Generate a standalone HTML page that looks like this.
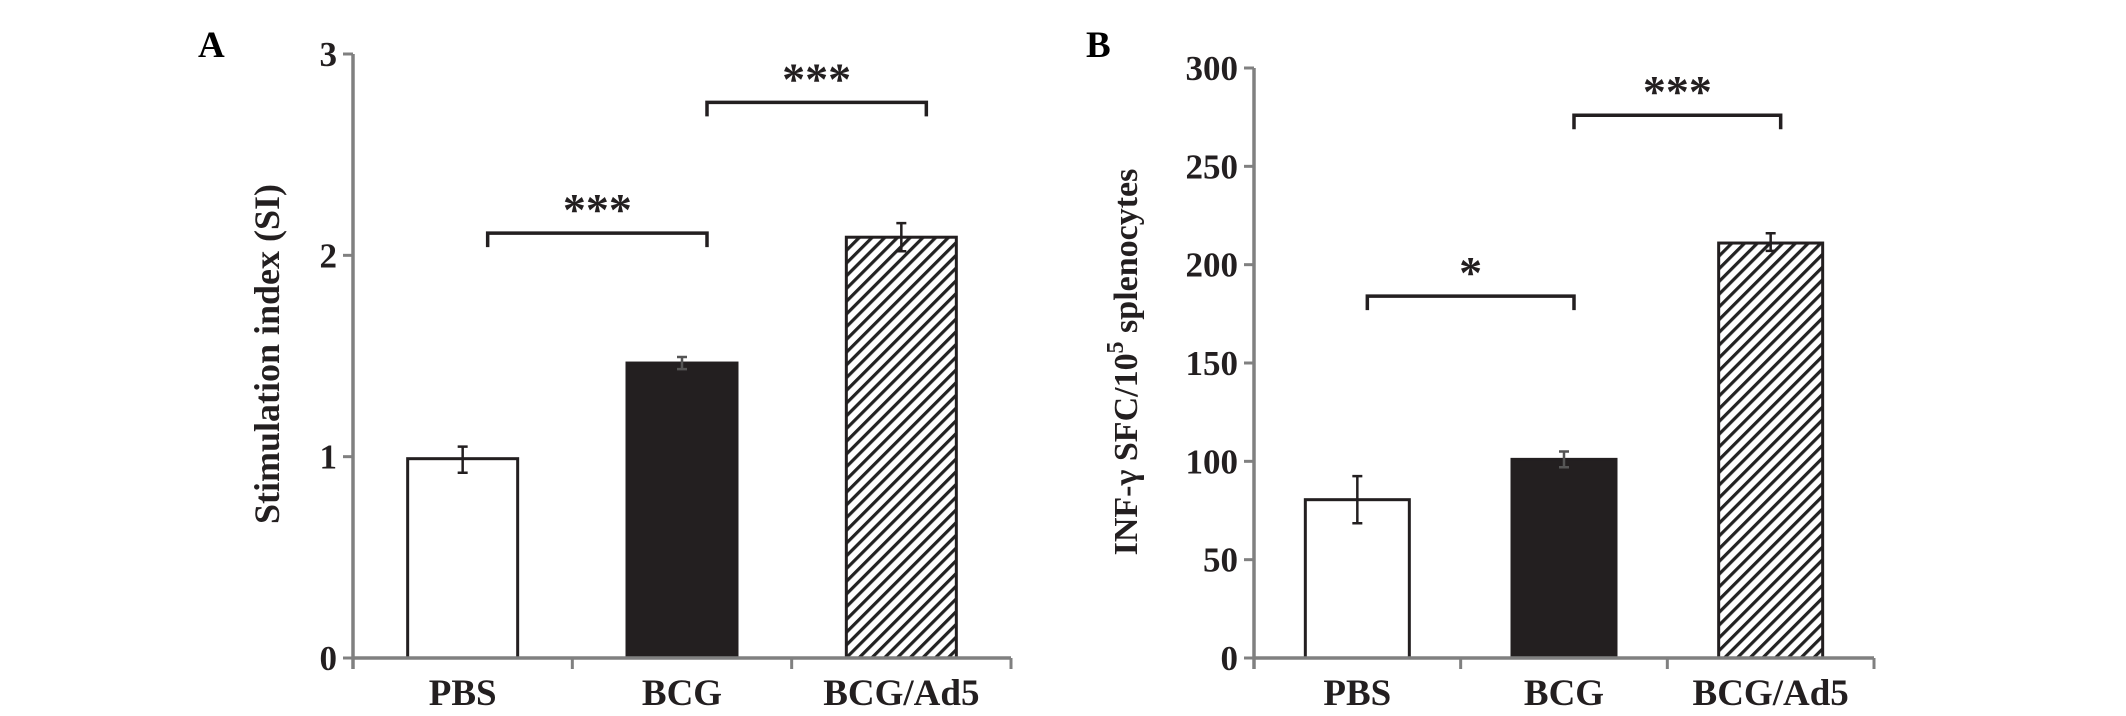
<!DOCTYPE html>
<html><head><meta charset="utf-8"><style>
html,body{margin:0;padding:0;background:#fff;}
svg{display:block;font-family:"Liberation Serif",serif;font-weight:bold;}
</style></head><body>
<svg id="fig" width="2126" height="716" viewBox="0 0 2126 716" xmlns="http://www.w3.org/2000/svg">
<defs>
<pattern id="hatch" patternUnits="userSpaceOnUse" width="9" height="9" patternTransform="rotate(45)">
<rect width="9" height="9" fill="#fff"/><rect x="0" y="0" width="3.2" height="9" fill="#222"/>
</pattern>
</defs>
</svg>
<script>
const categories = ["PBS", "BCG", "BCG/Ad5"];
const valuesA = [0.99, 1.465, 2.09];
const errUpA = [0.06, 0.03, 0.07];
const errDnA = [0.07, 0.03, 0.07];
const ticksA = [0, 1, 2, 3];
const valuesB = [80.5, 101, 211];
const errUpB = [12, 4, 5];
const errDnB = [12, 4, 4];
const ticksB = [0, 50, 100, 150, 200, 250, 300];
const sigA = [[0, 1, 2.11, "***"], [1, 2, 2.76, "***"]];
const sigB = [[0, 1, 184, "*"], [1, 2, 276, "***"]];

const NS = "http://www.w3.org/2000/svg";
const svg = document.getElementById("fig");
function mk(tag, attrs, parent) {
  const e = document.createElementNS(NS, tag);
  for (const k in attrs) e.setAttribute(k, attrs[k]);
  (parent || svg).appendChild(e);
  return e;
}
const fills = ["#fff", "#231f20", "url(#hatch)"];

function panel(cfg) {
  const g = mk("g", {});
  
  
  const y = v => cfg.y0 - (v - cfg.min) / (cfg.max - cfg.min) * (cfg.y0 - cfg.yTop);
  const catW = (cfg.xEnd - cfg.ax) / categories.length;
  const cx = i => cfg.ax + catW * (i + 0.5);
  const L = mk("text", {x: cfg.letterX, y: 57, "font-size": 37}, g);
  L.textContent = cfg.letter;
  
  
  cfg.values.forEach((v, i) => {
    const top = y(v);
    const r = mk("rect", {x: cx(i) - cfg.barW / 2, y: top, width: cfg.barW, height: cfg.y0 - top, fill: fills[i], stroke: "#231f20", "stroke-width": 3}, g);
    
    
    const eu = y(v + cfg.errUp[i]), ed = y(v - cfg.errDn[i]);
    const e = mk("path", {d: `M${cx(i)} ${eu}V${ed}M${cx(i)-5} ${eu}H${cx(i)+5}M${cx(i)-5} ${ed}H${cx(i)+5}`, stroke: i === 1 ? "#555" : "#231f20", "stroke-width": 2.5, fill: "none"}, g);
    
    
    const t = mk("text", {x: cx(i), y: 705, "font-size": 37, "text-anchor": "middle", fill: "#231f20"}, g);
    t.textContent = categories[i];
    
    
  });
  const ya = mk("line", {x1: cfg.ax, y1: cfg.yTop, x2: cfg.ax, y2: cfg.y0 + 11, stroke: "#808080", "stroke-width": 3.5}, g);
  
  
  const xa = mk("line", {x1: cfg.ax, y1: cfg.y0, x2: cfg.xEnd, y2: cfg.y0, stroke: "#808080", "stroke-width": 3.5}, g);
  
  
  for (let i = 1; i <= categories.length; i++) {
    const tx = cfg.ax + catW * i;
    const tk = mk("line", {x1: tx, y1: cfg.y0, x2: tx, y2: cfg.y0 + 11, stroke: "#808080", "stroke-width": 3}, g);
    
    
  }
  cfg.ticks.forEach(t => {
    const ty = y(t);
    const tk = mk("line", {x1: cfg.ax - 10, y1: ty, x2: cfg.ax, y2: ty, stroke: "#808080", "stroke-width": 3}, g);
    
    
    const tl = mk("text", {x: cfg.ax - 16, y: ty + 12, "font-size": 35, "text-anchor": "end", fill: "#231f20"}, g);
    tl.textContent = t;
    
    
  });
  const yt = mk("text", {x: 0, y: 0, "font-size": cfg.titleSize, "text-anchor": "middle", fill: "#231f20", transform: `translate(${cfg.titleX},${cfg.titleY}) rotate(-90)`}, g);
  yt.innerHTML = cfg.title;
  
  
  cfg.sig.forEach(s => {
    const x1 = cx(s[0]) + cfg.brIn, x2 = cx(s[1]) + cfg.brIn, by = y(s[2]);
    const b = mk("path", {d: `M${x1} ${by+14}V${by}H${x2}V${by+14}`, stroke: "#231f20", "stroke-width": 3.5, fill: "none"}, g);
    
    
    const st = mk("text", {x: (x1 + x2) / 2, y: by - 8, "font-size": 46, "text-anchor": "middle", fill: "#231f20"}, g);
    st.textContent = s[3];
    
    
  });
}

panel({name: "panel-a", letter: "A", letterX: 198, ax: 353, xEnd: 1011, y0: 658, yTop: 54, min: 0, max: 3,
  barW: 110, values: valuesA, errUp: errUpA, errDn: errDnA, ticks: ticksA, sig: sigA, brIn: 25,
  title: "Stimulation index (SI)", titleSize: 36, titleX: 279, titleY: 354});
panel({name: "panel-b", letter: "B", letterX: 1086, ax: 1254, xEnd: 1874, y0: 658, yTop: 68, min: 0, max: 300,
  barW: 104, values: valuesB, errUp: errUpB, errDn: errDnB, ticks: ticksB, sig: sigB, brIn: 10,
  title: 'INF-γ SFC/10<tspan font-size="24" dy="-14">5</tspan><tspan dy="14"> splenocytes</tspan>', titleSize: 34, titleX: 1137, titleY: 362});
</script>
</body></html>
